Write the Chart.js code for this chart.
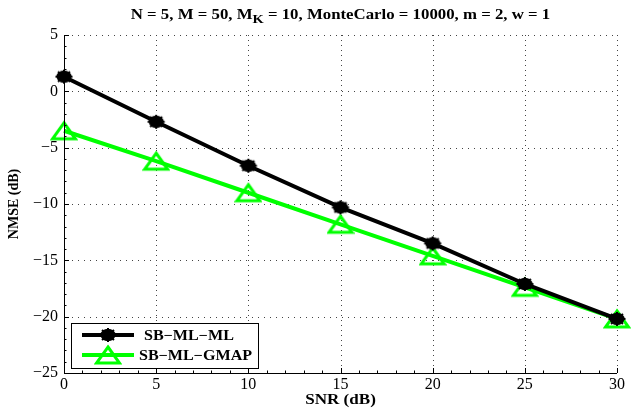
<!DOCTYPE html>
<html>
<head>
<meta charset="utf-8">
<script src="https://cdn.jsdelivr.net/npm/chart.js@4/dist/chart.umd.min.js"></script>
<style>
html,body{margin:0;padding:0;background:#fff;}
#wrap{width:631px;height:412px;position:relative;}
</style>
</head>
<body>
<div id="wrap"><canvas id="c" width="631" height="412"></canvas></div>
<script>
const snr = [0, 5, 10, 15, 20, 25, 30];
const sbMlMl = [1.3, -2.7, -6.6, -10.3, -13.5, -17.1, -20.2];
const sbMlGmap = [-3.5, -6.2, -9.0, -11.8, -14.6, -17.4, -20.2];
const xTicks = [0, 5, 10, 15, 20, 25, 30];
const yTicks = [5, 0, -5, -10, -15, -20, -25];
const seriesNames = ['SB\u2212ML\u2212ML', 'SB\u2212ML\u2212GMAP'];
const titleParts = ['N = 5, M = 50, M', 'K', ' = 10, MonteCarlo = 10000, m = 2, w = 1'];
const xTitle = 'SNR (dB)';
const yTitle = 'NMSE (dB)';

const serif = '"Liberation Serif", "DejaVu Serif", serif';

function makeCircleMarker() {
  const c = document.createElement('canvas');
  c.width = 20; c.height = 16;
  const g = c.getContext('2d');
  g.fillStyle = '#000';
  g.beginPath(); g.ellipse(10, 8, 7.5, 6.2, 0, 0, Math.PI * 2); g.fill();
  g.strokeStyle = '#000'; g.lineWidth = 2;
  g.beginPath();
  g.moveTo(1.5, 8); g.lineTo(18.5, 8);
  g.moveTo(10, 1); g.lineTo(10, 15);
  g.moveTo(4, 3); g.lineTo(16, 13);
  g.moveTo(16, 3); g.lineTo(4, 13);
  g.stroke();
  return c;
}
function makeTriMarker() {
  const c = document.createElement('canvas');
  c.width = 28; c.height = 22;
  const g = c.getContext('2d');
  g.strokeStyle = '#00ff00'; g.lineWidth = 3; g.lineJoin = 'miter';
  g.beginPath();
  g.moveTo(14, 3); g.lineTo(25.5, 19); g.lineTo(2.5, 19); g.closePath();
  g.stroke();
  return c;
}
const circleImg = makeCircleMarker();
const triImg = makeTriMarker();

function stretchedText(ctx, text, x, y, font, align, k) {
  ctx.save();
  ctx.font = font;
  const w = ctx.measureText(text).width * k;
  let sx = x;
  if (align === 'center') sx = x - w / 2;
  else if (align === 'right') sx = x - w;
  ctx.translate(sx, y);
  ctx.scale(k, 1);
  ctx.textAlign = 'left';
  ctx.fillText(text, 0, 0);
  ctx.restore();
  return w;
}

const gridPlugin = {
  id: 'dotGrid',
  beforeDatasetsDraw(chart) {
    const ctx = chart.ctx;
    const a = chart.chartArea;
    const xs = chart.scales.x, ys = chart.scales.y;
    ctx.save();
    ctx.fillStyle = '#444';
    xTicks.forEach(v => {
      if (v === 0) return;
      const px = Math.round(xs.getPixelForValue(v));
      for (let y = a.top; y <= a.bottom; y += 5) ctx.fillRect(px, y, 1, 1);
    });
    yTicks.forEach(v => {
      if (v === -25) return;
      const py = Math.round(ys.getPixelForValue(v));
      for (let x = a.left + 2; x <= a.right; x += 6) ctx.fillRect(x, py, 1, 1);
    });
    ctx.restore();
  }
};

const axesPlugin = {
  id: 'axesDeco',
  afterDraw(chart) {
    const ctx = chart.ctx;
    const a = chart.chartArea;
    const xs = chart.scales.x, ys = chart.scales.y;
    ctx.save();
    ctx.strokeStyle = '#000';
    ctx.lineWidth = 1;
    ctx.beginPath();
    ctx.moveTo(a.left + 0.5, a.top);
    ctx.lineTo(a.left + 0.5, a.bottom + 0.5);
    ctx.lineTo(a.right, a.bottom + 0.5);
    ctx.stroke();
    ctx.beginPath();
    xTicks.forEach(v => {
      const px = Math.round(xs.getPixelForValue(v)) + 0.5;
      ctx.moveTo(px, a.bottom); ctx.lineTo(px, a.bottom - 5);
    });
    yTicks.forEach(v => {
      const py = Math.round(ys.getPixelForValue(v)) + 0.5;
      ctx.moveTo(a.left, py); ctx.lineTo(a.left + 5, py);
    });
    ctx.stroke();
    ctx.beginPath();
    for (let v = 0; v <= 30; v += 1) {
      const px = Math.round(xs.getPixelForValue(v)) + 0.5;
      ctx.moveTo(px, a.bottom); ctx.lineTo(px, a.bottom - 2.5);
    }
    for (let v = -25; v <= 5; v += 1) {
      const py = Math.round(ys.getPixelForValue(v)) + 0.5;
      ctx.moveTo(a.left, py); ctx.lineTo(a.left + 2.5, py);
    }
    ctx.stroke();

    ctx.fillStyle = '#000';
    ctx.textBaseline = 'alphabetic';
    const bigF = 'bold 14px ' + serif, subF = 'bold 12px ' + serif;
    const k = 1.2;
    ctx.font = bigF; const w0 = ctx.measureText(titleParts[0]).width * k;
    ctx.font = subF; const w1 = ctx.measureText(titleParts[1]).width * k;
    ctx.font = bigF; const w2 = ctx.measureText(titleParts[2]).width * k;
    let tx = (a.left + a.right) / 2 - (w0 + w1 + w2) / 2;
    const ty = 19;
    stretchedText(ctx, titleParts[0], tx, ty, bigF, 'left', k); tx += w0;
    stretchedText(ctx, titleParts[1], tx, ty + 4, subF, 'left', k); tx += w1;
    stretchedText(ctx, titleParts[2], tx, ty, bigF, 'left', k);

    stretchedText(ctx, xTitle, (a.left + a.right) / 2, 404, 'bold 14px ' + serif, 'center', 1.22);
    ctx.save();
    ctx.translate(18, (a.top + a.bottom) / 2);
    ctx.rotate(-Math.PI / 2);
    ctx.font = 'bold 14px ' + serif;
    ctx.textAlign = 'center';
    ctx.fillText(yTitle, 0, 0);
    ctx.restore();

    // legend
    const lx = 71, ly = 323, lw = 187, lh = 45;
    ctx.fillStyle = '#fff';
    ctx.fillRect(lx, ly, lw, lh);
    ctx.strokeStyle = '#000';
    ctx.lineWidth = 1;
    ctx.strokeRect(lx + 0.5, ly + 0.5, lw, lh);
    const ds = chart.data.datasets;
    const rows = [ly + 12, ly + 32];
    ds.forEach((d, i) => {
      const y = rows[i];
      ctx.strokeStyle = d.borderColor;
      ctx.lineWidth = d.borderWidth;
      ctx.beginPath(); ctx.moveTo(82, y); ctx.lineTo(134, y); ctx.stroke();
      const img = d.pointStyle;
      ctx.drawImage(img, 108 - img.width / 2, y - img.height / 2);
      ctx.fillStyle = '#000';
      ctx.textBaseline = 'middle';
      stretchedText(ctx, seriesNames[i], i === 0 ? 144 : 139, y + 1, 'bold 14px ' + serif, 'left', 1.15);
    });
    ctx.restore();
  }
};

new Chart(document.getElementById('c'), {
  type: 'line',
  data: {
    labels: snr,
    datasets: [
      {
        label: seriesNames[0],
        data: snr.map((x, i) => ({x, y: sbMlMl[i]})),
        borderColor: '#000',
        backgroundColor: '#000',
        borderWidth: 4,
        pointStyle: circleImg,
        pointRadius: 8,
        tension: 0
      },
      {
        label: seriesNames[1],
        data: snr.map((x, i) => ({x, y: sbMlGmap[i]})),
        borderColor: '#00ff00',
        backgroundColor: 'rgba(0,0,0,0)',
        borderWidth: 4,
        pointStyle: triImg,
        pointRadius: 10,
        tension: 0
      }
    ]
  },
  options: {
    responsive: false,
    animation: false,
    clip: false,
    layout: { padding: { top: 35, right: 8, left: 0, bottom: 0 } },
    plugins: { legend: { display: false }, title: { display: false }, tooltip: { enabled: false } },
    scales: {
      x: {
        type: 'linear', min: 0, max: 30,
        afterBuildTicks: s => { s.ticks = xTicks.map(v => ({value: v})); },
        afterFit: s => { s.height = 39; },
        border: { display: false },
        grid: { display: false, drawTicks: false },
        ticks: { color: '#000', font: { family: serif, size: 16 }, padding: 2, maxRotation: 0 },
        title: { display: false }
      },
      y: {
        type: 'linear', min: -25, max: 5,
        afterBuildTicks: s => { s.ticks = yTicks.map(v => ({value: v})); },
        afterFit: s => { s.width = 64; },
        border: { display: false },
        grid: { display: false, drawTicks: false },
        ticks: { color: '#000', font: { family: serif, size: 16 }, padding: 6,
          callback: v => (v < 0 ? '\u2212' + Math.abs(v) : String(v)) },
        title: { display: false }
      }
    }
  },
  plugins: [gridPlugin, axesPlugin]
});
</script>
</body>
</html>
